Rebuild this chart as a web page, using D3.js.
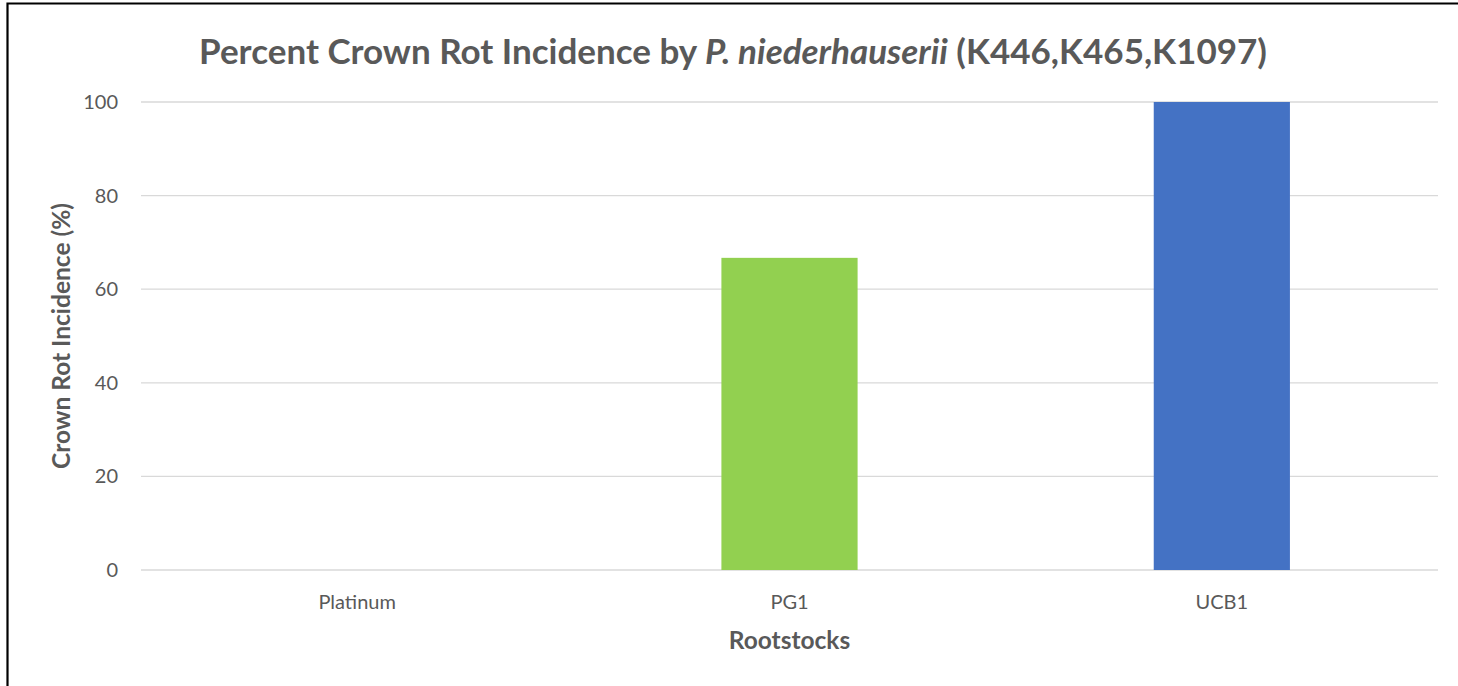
<!DOCTYPE html>
<html><head><meta charset="utf-8">
<script src="https://cdn.jsdelivr.net/npm/d3@7"></script>
<style>body{margin:0;background:#fff}svg{display:block}</style>
</head><body><svg id="c" width="1458" height="686"></svg>
<script>
const categories = ["Platinum", "PG1", "UCB1"];
const values = [0, 66.7, 100];
const barColors = ["#4472c4", "#92d050", "#4472c4"];
const yTicks = [0, 20, 40, 60, 80, 100];

const svg = d3.select("#c");
const W = 1458, H = 686;
const m = {left: 141, right: 20, top: 102, bottom: 116};
const font = "Lato, 'Open Sans', sans-serif";
const grey = "#595959";

svg.append("rect").attr("width", W).attr("height", H).attr("fill", "#fff");
// frame (cut at right/bottom edges in the reference)
svg.append("path").attr("d", `M7.5,${H} V3.5 H${W}`)
  .attr("fill", "none").attr("stroke", "#000").attr("stroke-width", 2.2);

const x = d3.scaleBand().domain(categories).range([m.left, W - m.right])
  .paddingInner(0.685).paddingOuter(0.3425);
const y = d3.scaleLinear().domain([0, 100]).range([H - m.bottom, m.top]);

// gridlines
svg.append("g").selectAll("line").data(yTicks).join("line")
  .attr("x1", m.left).attr("x2", W - m.right)
  .attr("y1", d => y(d)).attr("y2", d => y(d))
  .attr("stroke", "#d9d9d9").attr("stroke-width", 1.3);

// y axis labels
const yAxis = d3.axisLeft(y).tickValues(yTicks).tickSize(0).tickPadding(0);
const gy = svg.append("g").attr("transform", `translate(${m.left - 23},0)`).call(yAxis);
gy.select(".domain").remove();
gy.selectAll("text").attr("fill", grey).style("font-family", font).style("font-size", "20px");

// bars
svg.append("g").selectAll("rect").data(values).join("rect")
  .attr("x", (d, i) => x(categories[i]))
  .attr("y", d => y(d))
  .attr("width", x.bandwidth())
  .attr("height", d => y(0) - y(d))
  .attr("fill", (d, i) => barColors[i]);

// x axis labels
const xAxis = d3.axisBottom(x).tickSize(0).tickPadding(0);
const gx = svg.append("g").attr("transform", `translate(0,${H - m.bottom})`).call(xAxis);
gx.select(".domain").remove();
gx.selectAll("text").attr("fill", grey).attr("dy", null).attr("y", 39)
  .style("font-family", font).style("font-size", "20px");

// axis titles
svg.append("text").attr("x", x("PG1") + x.bandwidth() / 2).attr("y", 649)
  .attr("text-anchor", "middle").attr("fill", grey)
  .style("font-family", font).style("font-size", "24.5px").style("font-weight", "bold")
  .text("Rootstocks");

svg.append("text").attr("transform", `translate(60,${(y(0) + y(100)) / 2}) rotate(-90)`)
  .attr("text-anchor", "middle").attr("dominant-baseline", "central").attr("fill", grey)
  .style("font-family", font).style("font-size", "24.5px").style("font-weight", "bold")
  .text("Crown Rot Incidence (%)");

// title
const t = svg.append("text").attr("x", 733).attr("y", 64).attr("text-anchor", "middle")
  .attr("fill", grey).style("font-family", font).style("font-size", "35px").style("font-weight", "bold");
t.append("tspan").text("Percent Crown Rot Incidence by ");
t.append("tspan").style("font-style", "italic").text("P. niederhauserii");
t.append("tspan").text(" (K446,K465,K1097)");
</script></body></html>
